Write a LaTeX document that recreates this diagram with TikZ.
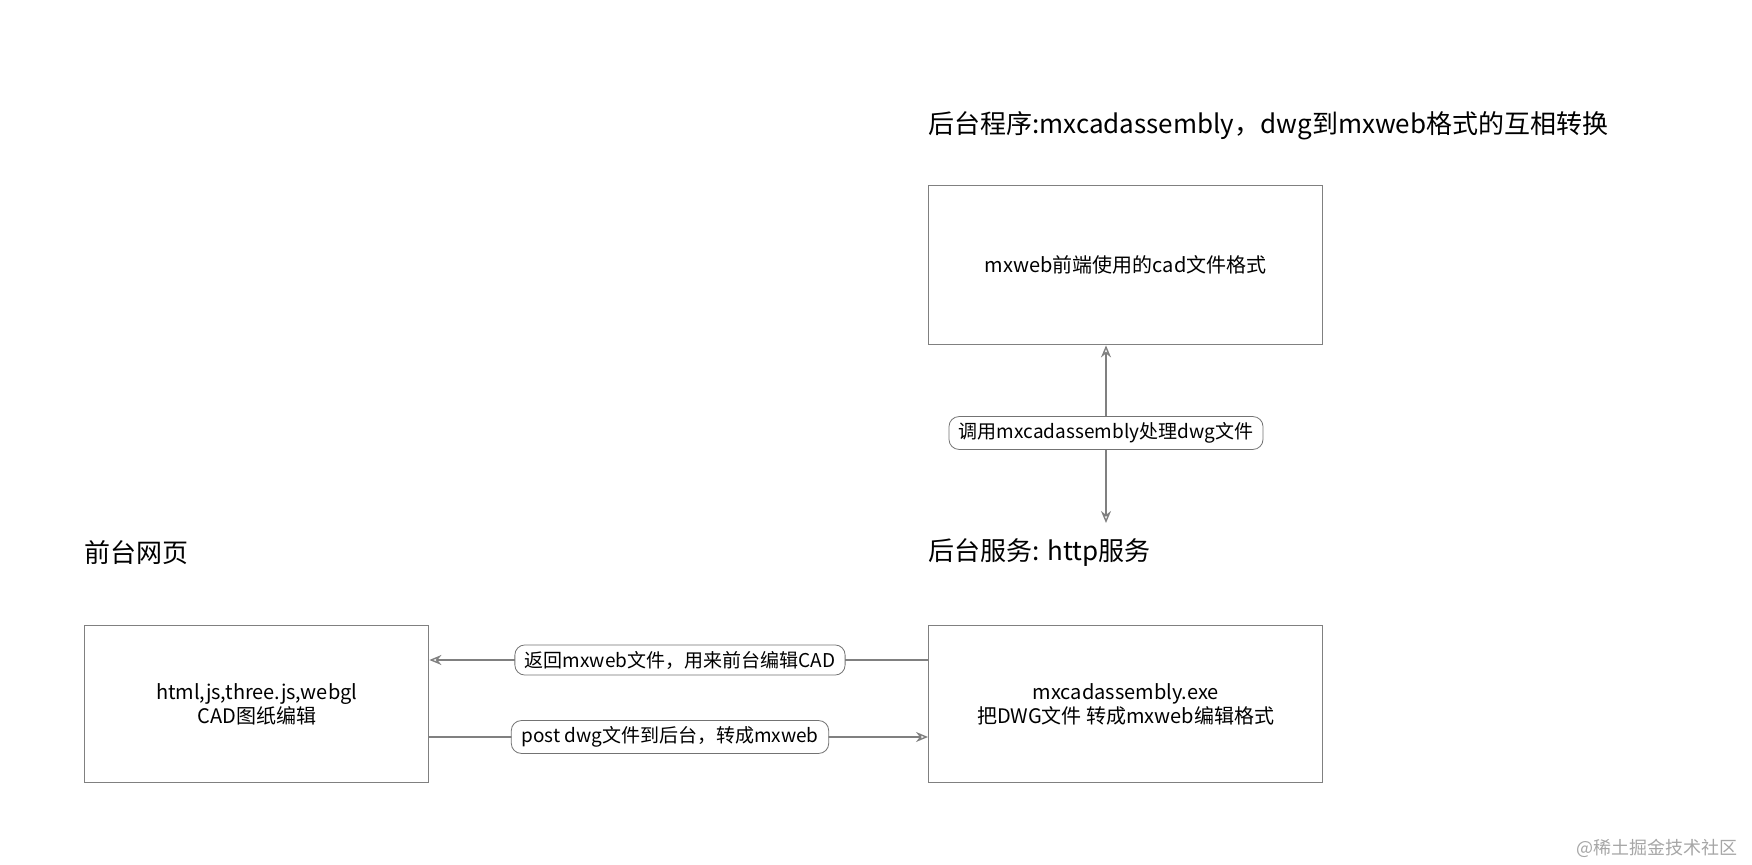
\documentclass[tikz,border=0pt]{standalone}
\usepackage{fontspec}
\setmainfont{Noto Sans CJK SC}
\usetikzlibrary{arrows.meta}
\begin{document}
\begin{tikzpicture}[x=0.5pt,y=-0.5pt,
  box/.style={draw=black!50,line width=0.7pt,minimum width=#1,anchor=north west,inner sep=0pt},
  lbl/.style={draw=black!55,rounded corners=5pt,fill=white,font=\fontsize{9.5}{11}\selectfont,inner xsep=5pt,inner ysep=3pt},
  ttl/.style={anchor=west,font=\fontsize{13}{15}\selectfont,inner sep=0pt},
  conn/.style={draw=black!50,line width=0.7pt,-{Stealth[length=6pt,width=5pt,open]}}]
\useasboundingbox (0,0) rectangle (1752,865);
\node[box=197pt,minimum height=79.5pt] (top) at (928,185) {};
\node[font=\fontsize{10}{12}\selectfont] at (top.center) {mxweb前端使用的cad文件格式};
\node[box=172pt,minimum height=78.5pt] (fl) at (84,625) {};
\node[font=\fontsize{10}{12}\selectfont,align=center] at (fl.center) {html,js,three.js,webgl\\CAD图纸编辑};
\node[box=197pt,minimum height=78.5pt] (fr) at (928,625) {};
\node[font=\fontsize{10}{12}\selectfont,align=center] at (fr.center) {mxcadassembly.exe\\把DWG文件 转成mxweb编辑格式};
\node[ttl] (t1) at (928,126) {后台程序:mxcadassembly，dwg到mxweb格式的互相转换};
\node[ttl] (t2) at (928,553) {后台服务: http服务};
\node[ttl] (t3) at (84,553) {前台网页};
\coordinate (vb) at (1106,523);
\coordinate (vt) at (top.south -| vb);
\draw[conn,{Stealth[length=6pt,width=5pt,open]}-{Stealth[length=6pt,width=5pt,open]}] (vt) -- (vb);
\node[lbl] (l1) at (1106,433) {调用mxcadassembly处理dwg文件};
\draw[conn] (fr.west |- 0,660) -- (fl.east |- 0,660);
\node[lbl] (l2) at (680,660) {返回mxweb文件，用来前台编辑CAD};
\draw[conn] (fl.east |- 0,737) -- (fr.west |- 0,737);
\node[lbl] (l3) at (670,737) {post dwg文件到后台，转成mxweb};
\node[anchor=east,text=black!35,font=\fontsize{9}{11}\selectfont] (wm) at (1745,848) {@稀土掘金技术社区};
\end{tikzpicture}
\end{document}
